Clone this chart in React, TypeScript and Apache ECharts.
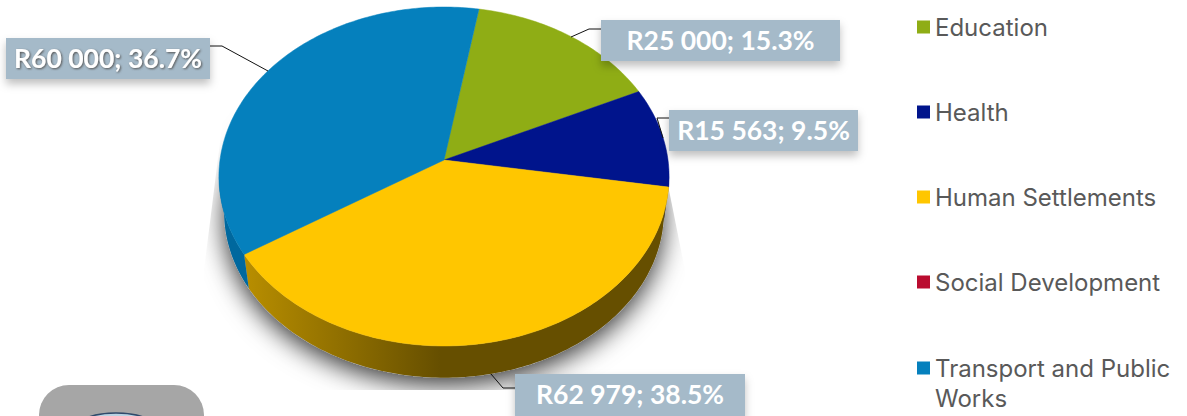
import React, { useEffect, useRef } from "react";
import * as echarts from "echarts";

const categories = ["Education", "Health", "Human Settlements", "Social Development", "Transport and Public Works"];
const budgetValues = [25000, 15563, 62979, 0, 60000];
const sliceColors = ["#8FAD15", "#00148C", "#FFC600", "#BA0C2F", "#0580BD"];
const sideColors = ["#6A8010", "#000F68", "#664F00", "#8A0822", "#00689E"];

const total = budgetValues.reduce((a, b) => a + b, 0);
const START_DEG = 9.85;

// tilted-disc projection
const CX = 444, CY = 160, RX = 224, RY = 152.3, PERSP = -0.0973;
const DEPTH = 36, DEPTH_SCALE = 0.977;
const rad = (d: number) => (d * Math.PI) / 180;
function project(deg: number, lower = false): number[] {
  const X = Math.sin(rad(deg));
  const Y = -Math.cos(rad(deg));
  const den = 1 + PERSP * Y;
  const x = (RX * X) / den;
  const py = (CY + RY * Y) / den;
  if (!lower) return [CX + x, py];
  return [CX + x * DEPTH_SCALE, CY + (py - CY) * DEPTH_SCALE + DEPTH];
}
function arc(from: number, to: number, lower = false): number[][] {
  const pts: number[][] = [];
  const n = Math.max(2, Math.ceil(Math.abs(to - from)));
  for (let i = 0; i <= n; i++) pts.push(project(from + ((to - from) * i) / n, lower));
  return pts;
}
function startAngle(idx: number) {
  let s = 0;
  for (let i = 0; i < idx; i++) s += budgetValues[i];
  return START_DEG + (s / total) * 360;
}

const FRONT_FROM = 95.6, FRONT_TO = 264.4;

const sideFill = (i: number) =>
  i === 2
    ? new echarts.graphic.LinearGradient(245, 0, 440, 0, [
        { offset: 0, color: "#B88E00" },
        { offset: 1, color: "#664F00" },
      ], true)
    : sideColors[i];

const sliceSeries = categories.map((name, i) => ({
  type: "custom",
  name,
  coordinateSystem: "none",
  z: 3,
  silent: true,
  itemStyle: { color: sliceColors[i] },
  data: [[budgetValues[i]]],
  renderItem: (_p: any, api: any) => {
    const v = api.value(0) as number;
    if (!v) return null;
    const a0 = startAngle(i);
    const a1 = a0 + (v / total) * 360;
    const children: any[] = [];
    const f0 = Math.max(a0, FRONT_FROM), f1 = Math.min(a1, FRONT_TO);
    if (f1 > f0) {
      children.push({
        type: "polygon",
        shape: { points: [...arc(f0, f1), ...arc(f1, f0, true)] },
        style: { fill: sideFill(i) },
      });
    }
    children.push({
      type: "polygon",
      shape: { points: [[CX, CY], ...arc(a0, a1)] },
      style: { fill: sliceColors[i], stroke: sliceColors[i], lineWidth: 0.5 },
    });
    return { type: "group", children };
  },
}));

const shadowSeries = {
  type: "custom",
  name: "shadow",
  coordinateSystem: "none",
  z: 2,
  silent: true,
  data: [[total]],
  renderItem: () => ({
    type: "group",
    clipPath: {
      type: "polygon",
      shape: { points: [[224, 110], [204, 270], [204, 390], [685, 390], [685, 270], [668, 185], [444, 100]] },
    },
    children: [
      {
        type: "polygon",
        shape: { points: [...arc(0, 360, true)] },
        style: { fill: "#bbbbbb", shadowBlur: 26, shadowOffsetY: 7, shadowColor: "rgba(0,0,0,0.8)" },
      },
    ],
  }),
};

const fmt = (v: number) => "R" + String(v).replace(/\B(?=(\d{3})+$)/g, " ");
const pct = (v: number) => ((v / total) * 100).toFixed(1) + "%";

// box: x, y, w, h; leader polyline; whether the text is shadowed
const labelLayout: Record<number, { box: number[]; line: number[][]; shadow?: boolean }> = {
  0: { box: [601, 20, 239, 41], line: [[601, 29], [589, 29], [571, 37]] },
  1: { box: [669, 110, 189, 41], line: [[669, 118], [657, 118], [663, 138]] },
  2: { box: [515, 374, 230, 42], line: [[515, 388], [503, 388], [491, 374]] },
  4: { box: [6, 38, 204, 41], line: [[210, 46], [222, 46], [268, 71]], shadow: true },
};

const labelSeries = {
  type: "custom",
  name: "labels",
  coordinateSystem: "none",
  z: 5,
  silent: true,
  data: budgetValues.map((v) => [v]),
  renderItem: (p: any, api: any) => {
    const i = p.dataIndex;
    const v = api.value(0) as number;
    const l = labelLayout[i];
    if (!l || !v) return null;
    const [x, y, w, h] = l.box;
    return {
      type: "group",
      children: [
        { type: "polyline", shape: { points: l.line }, style: { fill: "none", stroke: "#111", lineWidth: 1 } },
        {
          type: "rect",
          shape: { x, y, width: w, height: h },
          style: { fill: "#A5BAC9", shadowBlur: 8, shadowOffsetY: 5, shadowColor: "rgba(0,0,0,0.25)" },
        },
        {
          type: "text",
          x: x + w / 2,
          y: y + h / 2 - 1,
          style: {
            text: `${fmt(v)}; ${pct(v)}`,
            fill: "#fff",
            font: "bold 26.5px Lato",
            align: "center",
            verticalAlign: "middle",
            ...(l.shadow ? { textShadowBlur: 2, textShadowOffsetX: 1, textShadowOffsetY: 1, textShadowColor: "#555" } : {}),
          },
        },
      ],
    };
  },
};

export default function App() {
  const ref = useRef<HTMLDivElement>(null);
  useEffect(() => {
    document.body.style.margin = "0";
    const chart = echarts.init(ref.current!, undefined, { renderer: "svg" });
    const legendBase = {
      orient: "vertical",
      left: 917,
      itemWidth: 13,
      itemHeight: 13,
      icon: "rect",
      selectedMode: false,
      padding: 0,
      textStyle: { color: "#595959", fontFamily: "Inter", fontSize: 24 },
    };
    chart.setOption({
      animation: false,
      backgroundColor: "#fff",
      legend: [
        { ...legendBase, top: 15, itemGap: 61, data: categories.slice(0, 4) },
        {
          ...legendBase,
          top: 323,
          data: [categories[4]],
          formatter: () => "\nTransport and Public\nWorks",
          textStyle: { ...legendBase.textStyle, lineHeight: 30 },
        },
      ],
      graphic: [
        {
          type: "rect",
          z: 1,
          shape: { x: 39, y: 385, width: 165, height: 70, r: 30 },
          style: { fill: "#A6A6A6" },
        },
        {
          type: "ellipse",
          z: 1,
          shape: { cx: 116, cy: 428, rx: 40, ry: 15 },
          style: { fill: "#B9D3E3", stroke: "#2F4A6B", lineWidth: 1.5 },
        },
      ],
      series: [shadowSeries, ...sliceSeries, labelSeries],
    });
    return () => chart.dispose();
  }, []);
  return <div ref={ref} style={{ width: 1187, height: 416, overflow: "hidden" }} />;
}
